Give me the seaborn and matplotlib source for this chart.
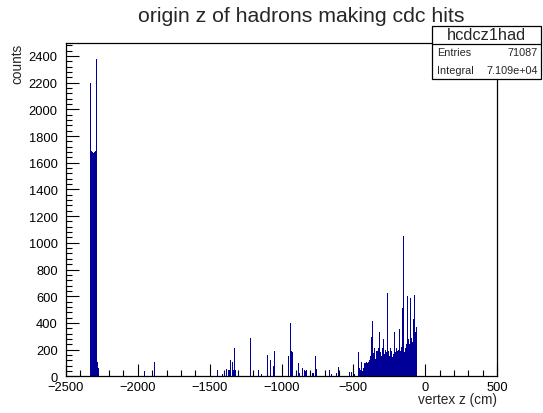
import numpy as np
import pandas as pd
import matplotlib
matplotlib.use("Agg")
import matplotlib.pyplot as plt
from matplotlib.patches import Rectangle
from matplotlib.lines import Line2D
from matplotlib.ticker import MultipleLocator
import seaborn as sns

# ---------------- data ----------------
title = "origin z of hadrons making cdc hits"
xlabel = "vertex z (cm)"
ylabel = "counts"
hist_name = "hcdcz1had"
stat_labels = ["Entries", "Integral"]
stat_values = ["71087", "7.109e+04"]

x_min, x_max = -2500, 500
y_max = 2497
bin_width = 5

# bin left edges (cm) and counts: target spike region
target_z = [-2330, -2325, -2320, -2315, -2310, -2305, -2300, -2295, -2290,
            -2285, -2280, -2275]
target_n = [2200, 1690, 1680, 40, 1670, 1680, 2080, 1690, 2375,
            110, 100, 60]

# sparse middle region
mid_z = [-1955, -1885, -1450, -1415, -1400, -1385, -1370, -1365, -1360,
         -1355, -1345, -1340, -1335, -1330, -1325, -1320, -1300, -1250,
         -1220, -1200, -1165, -1140, -1100, -1080, -1060, -1055, -1050,
         -1040, -955, -940, -935, -930, -925, -900, -885, -875, -860,
         -855, -840, -835, -830, -825, -785, -780, -765, -760, -670,
         -655, -620, -605, -540, -530, -525, -515, -495]
mid_n = [37, 105, 45, 20, 40, 57, 45, 50, 40,
         120, 105, 45, 50, 210, 50, 45, 20, 117,
         285, 25, 45, 20, 160, 120, 77, 75, 187,
         20, 152, 397, 187, 180, 185, 30, 97, 25, 360,
         60, 45, 40, 45, 40, 25, 25, 152, 57, 45,
         20, 25, 70, 60, 30, 30, 30, 15]

# dense region near the detector
dense_z = [-465, -460, -455, -450, -445, -440, -435, -430, -425, -420,
           -415, -410, -405, -400, -395, -390, -385, -380, -375, -370,
           -365, -360, -355, -350, -345, -340, -335, -330, -325, -320,
           -315, -310, -305, -300, -295, -290, -285, -280, -275, -270,
           -265, -260, -255, -250, -245, -240, -235, -230, -225, -220,
           -215, -210, -205, -200, -195, -190, -185, -180, -175, -170,
           -165, -160, -155, -150, -145, -140, -135, -130, -125, -120,
           -115, -110, -105, -100, -95, -90, -85, -80, -75, -70, -65]
dense_n = [185, 60, 50, 30, 107, 40, 227, 60, 97, 97,
           50, 105, 100, 110, 105, 120, 152, 652, 292, 415,
           240, 172, 210, 130, 367, 190, 190, 170, 210, 330,
           180, 115, 150, 210, 277, 190, 170, 200, 292, 180,
           627, 190, 127, 150, 210, 330, 190, 142, 170, 220,
           330, 180, 315, 210, 190, 200, 230, 352, 190, 277,
           220, 510, 1048, 240, 185, 210, 292, 240, 602, 280,
           390, 240, 590, 290, 200, 260, 427, 290, 610, 330, 367]

z_left = np.array(target_z + mid_z + dense_z, dtype=float)
counts = np.array(target_n + mid_n + dense_n, dtype=float)
df = pd.DataFrame({"z": z_left + bin_width / 2.0, "n": counts})

# ---------------- figure ----------------
W, H = 543, 414
sns.set_style("ticks")
plt.rcParams["font.family"] = ["Liberation Sans", "DejaVu Sans"]

fig = plt.figure(figsize=(W / 100, H / 100), dpi=100)
L, R, T, B = 66, 497, 44, 377.3
ax = fig.add_axes([L / W, 1 - B / H, (R - L) / W, (B - T) / H])

fill_color = "#000099"
sns.histplot(data=df, x="z", weights="n",
             binwidth=bin_width, binrange=(x_min, x_max),
             color=fill_color, alpha=1.0, linewidth=0, ax=ax)

ax.set_xlim(x_min, x_max)
ax.set_ylim(0, y_max)
ax.xaxis.set_major_locator(MultipleLocator(500))
ax.xaxis.set_minor_locator(MultipleLocator(100))
ax.yaxis.set_major_locator(MultipleLocator(200))
ax.yaxis.set_minor_locator(MultipleLocator(40))
ax.tick_params(which="both", direction="in", top=False, right=False,
               colors="black", labelsize=9.3, width=0.8)
ax.tick_params(which="major", length=9)
ax.tick_params(which="minor", length=4.5)
ax.tick_params(axis="x", which="major", pad=3.4)
ax.tick_params(axis="y", which="major", pad=6)
for s in ax.spines.values():
    s.set_visible(True)
    s.set_linewidth(0.9)
    s.set_color("black")

ax.set_xlabel(xlabel, fontsize=9.8, loc="right")
ax.set_ylabel(ylabel, fontsize=9.8, loc="top")
ax.xaxis.set_label_coords(1.0, (B - 393.5) / (B - T))
ax.yaxis.set_label_coords((24 - L) / (R - L), 1.0)

fig.text(301.5 / W, 1 - 17 / H, title, ha="center", va="center",
         fontsize=15.3)

# ---------------- stats box ----------------
bx0, bx1, by0, by1, bsep = 432, 541, 27, 80, 45
box = Rectangle((bx0 / W, 1 - by1 / H), (bx1 - bx0) / W, (by1 - by0) / H,
                transform=fig.transFigure, facecolor="white",
                edgecolor="black", linewidth=0.9, zorder=10)
fig.add_artist(box)
fig.add_artist(Line2D([bx0 / W, bx1 / W], [1 - bsep / H, 1 - bsep / H],
                      transform=fig.transFigure, color="black",
                      linewidth=0.9, zorder=11))
fig.text((bx0 + bx1) / 2 / W, 1 - 35.5 / H, hist_name, ha="center",
         va="center", fontsize=11.8, zorder=12)
rows_y = [53.5, 71.5]
for lab, val, yy in zip(stat_labels, stat_values, rows_y):
    fig.text((bx0 + 5) / W, 1 - yy / H, lab, ha="left", va="center",
             fontsize=7.8, zorder=12)
    fig.text((bx1 - 3) / W, 1 - yy / H, val, ha="right", va="center",
             fontsize=7.8, zorder=12)

fig.savefig("out.png", dpi=100)
